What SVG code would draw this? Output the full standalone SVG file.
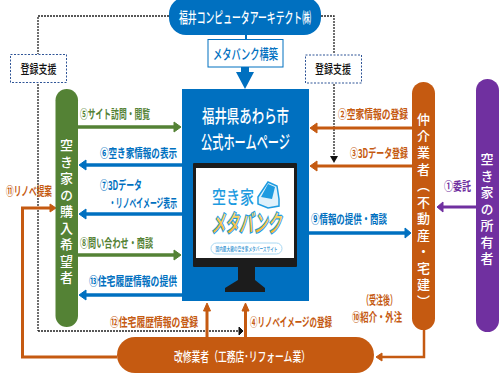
<svg xmlns="http://www.w3.org/2000/svg" width="500" height="375" viewBox="0 0 500 375">
<style>
text{font-family:"Noto Sans CJK JP","Liberation Sans",sans-serif;font-weight:500}
.w{fill:#fff}
.c{text-anchor:middle}
.lb,.lg,.lo,.lp{font-size:12.500px;font-weight:700}
.lb{fill:#0070c0}
.lg{fill:#548235}
.lo{fill:#c55a11}
.lp{fill:#7030a0}
.v{fill:#fff;font-size:13px;writing-mode:vertical-rl;letter-spacing:3.500px}
.dash{fill:none;stroke:#222;stroke-width:1.300;stroke-dasharray:2 1}
.sb{fill:#fff;stroke:#2f5597;stroke-width:1;stroke-dasharray:2 1.500}
.ag{stroke:#548235;stroke-width:3.500;fill:none}
.ab{stroke:#0070c0;stroke-width:3.500;fill:none}
.ao{stroke:#c55a11;stroke-width:3;fill:none}
.ap{stroke:#7030a0;stroke-width:3;fill:none}
</style>
<defs>
<linearGradient id="gold" x1="0" y1="0" x2="0" y2="1"><stop offset="0" stop-color="#ffe98a"/><stop offset="1" stop-color="#f2a91e"/></linearGradient>
</defs>
<rect width="500" height="375" fill="#fff"/>

<g id="connectors">
<path class="dash" d="M169 16H38V54M38 84V331M38 331H239"/>
<path d="M239 327l4 4-4 4z" fill="#111" stroke="#111"/>
<path class="dash" d="M321 16H334V54M334 84V156"/>
<path d="M330 156h8l-4 7z" fill="#111"/>
<rect x="245" y="35" width="2" height="5" fill="#0070c0"/>
<path d="M241 67h8v5h5l-9 17-9-17h5z" fill="#0070c0"/>
<path class="ag" d="M78 127H175"/><path d="M174 122l7 5-7 5z" fill="#548235" stroke="#548235"/>
<path class="ab" d="M182 165H85"/><path d="M86 160l-7 5 7 5z" fill="#0070c0" stroke="#0070c0"/>
<path class="ab" d="M182 214H85"/><path d="M86 209l-7 5 7 5z" fill="#0070c0" stroke="#0070c0"/>
<path class="ag" d="M78 255H175"/><path d="M174 250l7 5-7 5z" fill="#548235" stroke="#548235"/>
<path class="ab" d="M182 295H85"/><path d="M86 290l-7 5 7 5z" fill="#0070c0" stroke="#0070c0"/>
<path class="ao" d="M412 128H316"/><path d="M317 123l-7 5 7 5z" fill="#c55a11" stroke="#c55a11"/>
<path class="ao" d="M412 166H316"/><path d="M317 161l-7 5 7 5z" fill="#c55a11" stroke="#c55a11"/>
<path class="ab" d="M309 233H405"/><path d="M405 228l6 5-6 5z" fill="#0070c0" stroke="#0070c0"/>
<path class="ap" d="M476 207H442"/><path d="M443 202l-6 5 6 5z" fill="#7030a0" stroke="#7030a0"/>
<path class="ao" d="M117 357H22.500V208H52"/><path d="M50 204l6 4-6 4z" fill="#c55a11" stroke="#c55a11"/>
<path class="ao" d="M207 337V310" stroke-width="2.500"/><path d="M207 303l-3.500 8h7z" fill="#c55a11" stroke="#c55a11"/>
<path class="ao" d="M245.500 337V310" stroke-width="2.500"/><path d="M245.500 303l-3.500 8h7z" fill="#c55a11" stroke="#c55a11"/>
<path d="M424 328V357H381" fill="none" stroke="#c55a11" stroke-width="2.500"/><path d="M382 353l-6 4 6 4z" fill="#c55a11" stroke="#c55a11"/>
</g>

<g id="node-architect">
<rect x="169" y="-3" width="152" height="38" rx="17" fill="#0070c0"/>
<text class="w c" x="245" y="23" font-size="14.500" textLength="132" lengthAdjust="spacingAndGlyphs">福井コンピュータアーキテクト㈱</text>
</g>
<g id="node-build">
<rect x="208" y="39.500" width="75" height="27.500" fill="#fff" stroke="#0070c0" stroke-width="1"/>
<text class="c" x="245.500" y="59" font-size="14" fill="#0070c0" textLength="65" lengthAdjust="spacingAndGlyphs">メタバンク構築</text>
</g>
<g id="node-support-left">
<rect class="sb" x="10.500" y="54.500" width="56" height="28"/>
<text class="c" x="38.500" y="73.500" font-size="12.500" fill="#111" font-weight="700" textLength="36" lengthAdjust="spacingAndGlyphs">登録支援</text>
</g>
<g id="node-support-right">
<rect class="sb" x="305.500" y="55" width="56" height="28"/>
<text class="c" x="333" y="74" font-size="12.500" fill="#111" font-weight="700" textLength="36" lengthAdjust="spacingAndGlyphs">登録支援</text>
</g>

<g id="node-homepage">
<rect x="182" y="89" width="127" height="212" fill="#0070c0"/>
<text class="w c" x="245.500" y="123" font-size="18" textLength="87" lengthAdjust="spacingAndGlyphs">福井県あわら市</text>
<text class="w c" x="245.500" y="149" font-size="18" textLength="89" lengthAdjust="spacingAndGlyphs">公式ホームページ</text>
<rect x="193" y="163" width="104" height="104" rx="1" fill="#1c1c1c"/>
<rect x="196" y="168" width="98" height="90" fill="#fff"/>
<path d="M238 267h17v13l10 8v4h-40v-4l13-8z" fill="#1c1c1c"/>
<text class="c" x="233" y="204" font-size="18" font-weight="900" fill="#1e9be0" textLength="42" lengthAdjust="spacingAndGlyphs">空き家</text>
<path d="M258 197l10-15 9 4 2 13v7l-11 2-10-4z" fill="#dff1fb" stroke="#1e9be0" stroke-width="1.500"/>
<path d="M261 197l7-13 7 3-3 12z" fill="#1e9be0"/>
<text class="c" x="246.500" y="232" font-size="24" font-weight="900" font-style="italic" fill="url(#gold)" stroke="#1e9be0" stroke-width="2.500" paint-order="stroke" textLength="70" lengthAdjust="spacingAndGlyphs">メタバンク</text>
<rect x="211" y="243" width="71" height="11" rx="5.500" fill="#fff" stroke="#a9d8f2"/>
<text class="c" x="246.500" y="251" font-size="6" fill="#2a8fd0" textLength="62" lengthAdjust="spacingAndGlyphs">国内最大級の空き家メタバースサイト</text>
</g>

<g id="node-buyer">
<rect x="55.500" y="89" width="22.500" height="238" rx="11.250" fill="#548235"/>
<text class="v" x="66.500" y="139">空き家の購入希望者</text>
</g>
<g id="node-agent">
<rect x="412" y="82" width="23" height="248" rx="11.500" fill="#c55a11"/>
<text class="v" x="423.500" y="113">仲介業者（不動産・宅建）</text>
</g>
<g id="node-owner">
<rect x="476" y="79" width="23" height="253" rx="11.500" fill="#7030a0"/>
<text class="v" x="487" y="153">空き家の所有者</text>
</g>
<g id="node-renovator">
<rect x="117" y="337" width="257" height="36" rx="18" fill="#c55a11"/>
<text class="w" x="174" y="361" font-size="13" textLength="136" lengthAdjust="spacingAndGlyphs">改修業者（工務店･リフォーム業）</text>
</g>

<g id="labels">
<text class="lg" x="80" y="119" textLength="70" lengthAdjust="spacingAndGlyphs">⑤サイト訪問・閲覧</text>
<text class="lb" x="100" y="158" textLength="77" lengthAdjust="spacingAndGlyphs">⑥空き家情報の表示</text>
<text class="lb" x="100" y="190" textLength="42" lengthAdjust="spacingAndGlyphs">⑦3Dデータ</text>
<text class="lb" x="109" y="208" textLength="68" lengthAdjust="spacingAndGlyphs">・リノベイメージ表示</text>
<text class="lg" x="80" y="248" textLength="73" lengthAdjust="spacingAndGlyphs">⑧問い合わせ・商談</text>
<text class="lb" x="89" y="286" textLength="88" lengthAdjust="spacingAndGlyphs">⑬住宅履歴情報の提供</text>
<text class="lo" x="338" y="119" textLength="70" lengthAdjust="spacingAndGlyphs">②空家情報の登録</text>
<text class="lo" x="350" y="158" textLength="58" lengthAdjust="spacingAndGlyphs">③3Dデータ登録</text>
<text class="lb" x="311" y="224" textLength="76" lengthAdjust="spacingAndGlyphs">⑨情報の提供・商談</text>
<text class="lp" x="444" y="191" textLength="27" lengthAdjust="spacingAndGlyphs">①委託</text>
<text class="lo" x="6" y="196" textLength="46" lengthAdjust="spacingAndGlyphs">⑪リノベ提案</text>
<text class="lo" x="110" y="327" textLength="88" lengthAdjust="spacingAndGlyphs">⑫住宅履歴情報の登録</text>
<text class="lo" x="250" y="327" textLength="82" lengthAdjust="spacingAndGlyphs">④リノベイメージの登録</text>
<text class="lo" x="362" y="305" textLength="35" lengthAdjust="spacingAndGlyphs">（受注後）</text>
<text class="lo" x="352" y="322" textLength="50" lengthAdjust="spacingAndGlyphs">⑩紹介・外注</text>
</g>
</svg>
